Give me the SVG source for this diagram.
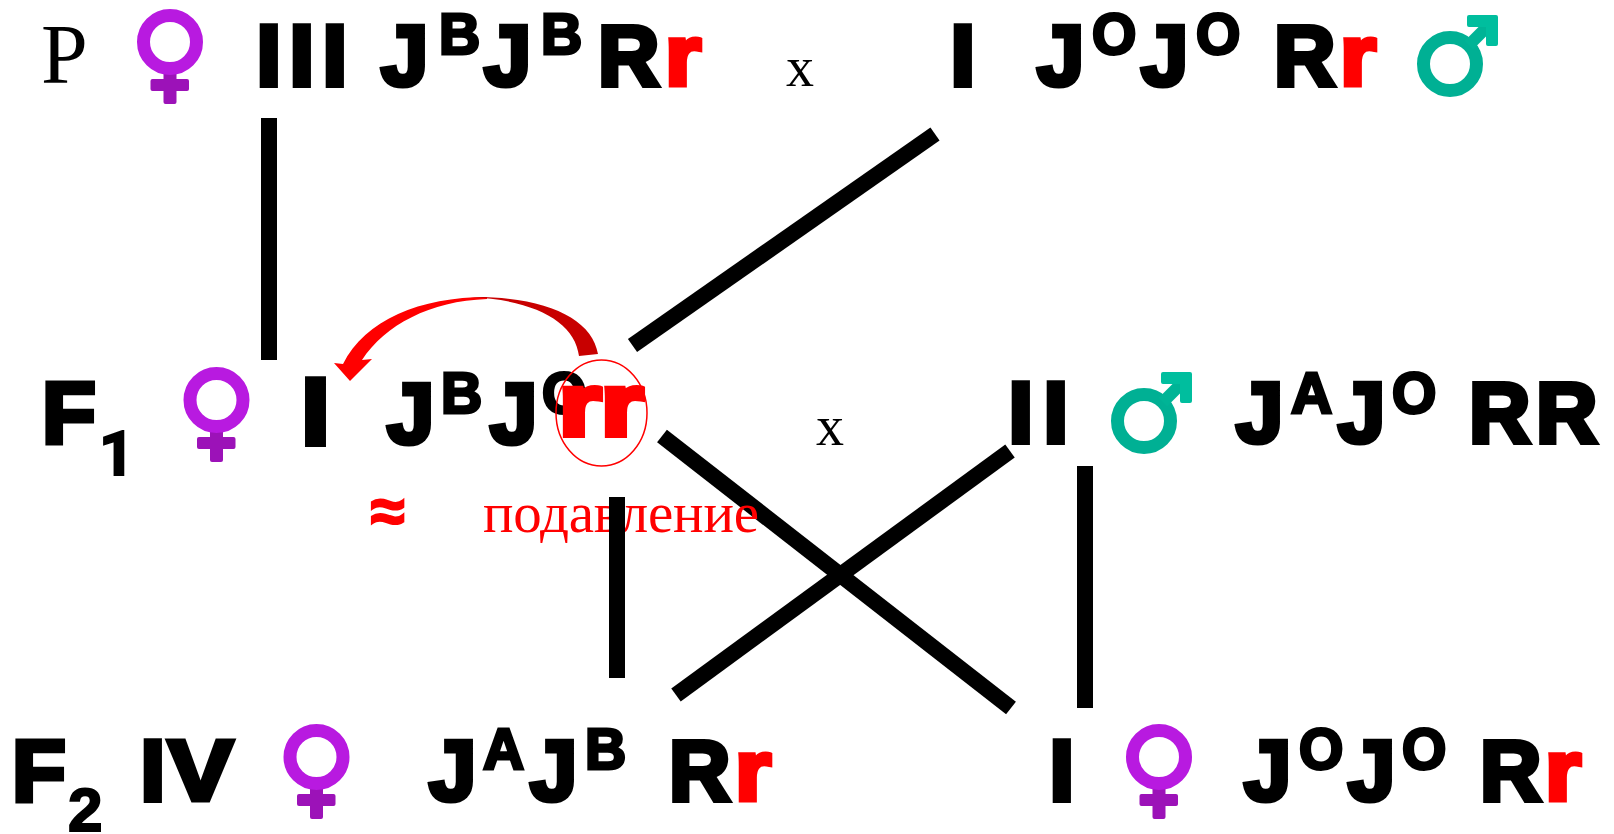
<svg xmlns="http://www.w3.org/2000/svg" width="1614" height="834" viewBox="0 0 1614 834">
<style>
text{font-family:"Liberation Sans",Arial,sans-serif;font-weight:700}
.b{font-size:85px;fill:#000;stroke:#000;stroke-width:5px}
.i{font-size:85px;fill:#000;stroke:#000;stroke-width:6px}
.s{font-size:57px;fill:#000;stroke:#000;stroke-width:3px}
.r{font-size:85px;fill:#f00;stroke:#f00;stroke-width:5px}
.n{font-size:62px;fill:#000;stroke:#000;stroke-width:2px}
.t{font-family:"Liberation Serif","Times New Roman",serif;font-weight:400}
.c line{stroke:#000;stroke-width:16}
</style>
<defs>
<g id="fem">
<rect x="163.500" y="70" width="13" height="34" rx="2" fill="#9c12b8"/>
<rect x="150.500" y="79" width="38.500" height="12" rx="2" fill="#9c12b8"/>
<circle cx="170" cy="42" r="26.500" fill="none" stroke="#b81ae0" stroke-width="13"/>
</g>
<g id="mal">
<circle cx="1450" cy="64" r="26.500" fill="none" stroke="#00b094" stroke-width="13"/>
<line x1="1469" y1="45" x2="1490" y2="24" stroke="#00b496" stroke-width="12"/>
<path d="M1469 15H1496a2 2 0 0 1 2 2V44a2 2 0 0 1-2 2H1488a2 2 0 0 1-2-2V27H1469a2 2 0 0 1-2-2V17a2 2 0 0 1 2-2Z" fill="#00be9e"/>
</g>
</defs>
<g id="connectors" class="c">
<line x1="269" y1="118" x2="269" y2="360"/>
<line x1="632.500" y1="345.500" x2="935" y2="134"/>
<line x1="662" y1="436" x2="1011" y2="708"/>
<line x1="1010" y1="451" x2="676" y2="695"/>
<line x1="1085" y1="466" x2="1085" y2="708"/>
</g>
<g id="p-label"><text class="t" x="41" y="83" font-size="84" fill="#000">P</text></g>
<g id="p-female">
<use href="#fem"/>
<text class="i" x="257" y="85">I</text><text class="i" x="290" y="85">I</text><text class="i" x="323" y="85">I</text>
<text class="b" x="381" y="85">J</text><text class="s" x="439" y="54">B</text>
<text class="b" x="484" y="85">J</text><text class="s" x="541" y="54">B</text>
<text class="b" x="598" y="85">R</text><text class="r" x="665" y="85" textLength="36" lengthAdjust="spacingAndGlyphs">r</text>
</g>
<g id="cross-1"><text class="t" x="786" y="86" font-size="56" fill="#000">x</text></g>
<g id="p-male">
<text class="i" x="951" y="85">I</text>
<text class="b" x="1037" y="85">J</text><text class="s" x="1092" y="54">O</text>
<text class="b" x="1141" y="85">J</text><text class="s" x="1196" y="54">O</text>
<text class="b" x="1274" y="85">R</text><text class="r" x="1340" y="85" textLength="36" lengthAdjust="spacingAndGlyphs">r</text>
<use href="#mal"/>
</g>
<g id="f1-female">
<text class="b" x="42" y="443" style="font-size:88px">F</text>
<text class="n" x="99" y="475" style="font-family:Roboto,sans-serif">1</text>
<use href="#fem" transform="translate(46.500 358)"/>
<text class="b" x="303" y="443" style="font-size:90px;stroke-width:8px">I</text>
<text class="b" x="387" y="443">J</text><text class="s" x="441" y="413">B</text>
<text class="b" x="490" y="443">J</text><text class="s" x="542" y="413">O</text>
<text class="r" x="559" y="435" style="font-size:88px;stroke-width:6px" textLength="84" lengthAdjust="spacingAndGlyphs">rr</text>
<ellipse cx="601.500" cy="413" rx="45.500" ry="53" fill="none" stroke="#f00" stroke-width="1.500"/>
</g>
<g id="suppression-arrow">
<path d="M487 297C420 297 365 320 343 364L334 363L350 381L372 359L362 360C385 325 430 301 487 299Z" fill="#f00"/>
<path d="M598 354C592 318 545 296 470 297C535 300 575 322 579 356Z" fill="#c80000"/>
</g>
<g id="suppression-label">
<text x="371" y="532" font-size="61" fill="#f00" stroke="#f00" stroke-width="2.500">≈</text>
<text class="t" x="483" y="532" font-size="57" fill="#f00" textLength="276">подавление</text>
</g>
<g id="cross-2"><text class="t" x="816" y="445" font-size="56" fill="#000">x</text></g>
<g id="f1-male">
<text class="i" x="1009" y="442">I</text><text class="i" x="1044" y="442">I</text>
<use href="#mal" transform="translate(-306 357)"/>
<text class="b" x="1236" y="442">J</text><text class="s" x="1291" y="413">A</text>
<text class="b" x="1338" y="442">J</text><text class="s" x="1392" y="413">O</text>
<text class="b" x="1469" y="442">R</text><text class="b" x="1536" y="442">R</text>
</g>
<g id="connector-f2"><line x1="617" y1="497" x2="617" y2="678" stroke="#000" stroke-width="16"/></g>
<g id="f2-female">
<text class="b" x="12" y="801" style="font-size:88px">F</text>
<text class="n" x="68" y="831">2</text>
<text class="i" x="141" y="800">I</text><text class="b" x="168" y="800" textLength="65" lengthAdjust="spacingAndGlyphs">V</text>
<use href="#fem" transform="translate(146.500 715)"/>
<text class="b" x="429" y="800">J</text><text class="s" x="483" y="769">A</text>
<text class="b" x="530" y="800">J</text><text class="s" x="585" y="769">B</text>
<text class="b" x="669" y="800">R</text><text class="r" x="735" y="800" textLength="36" lengthAdjust="spacingAndGlyphs">r</text>
</g>
<g id="f2-male">
<text class="i" x="1050" y="800">I</text>
<use href="#fem" transform="translate(989 715)"/>
<text class="b" x="1244" y="800">J</text><text class="s" x="1299" y="769">O</text>
<text class="b" x="1348" y="800">J</text><text class="s" x="1402" y="769">O</text>
<text class="b" x="1480" y="800">R</text><text class="r" x="1545" y="800" textLength="36" lengthAdjust="spacingAndGlyphs">r</text>
</g>
</svg>
